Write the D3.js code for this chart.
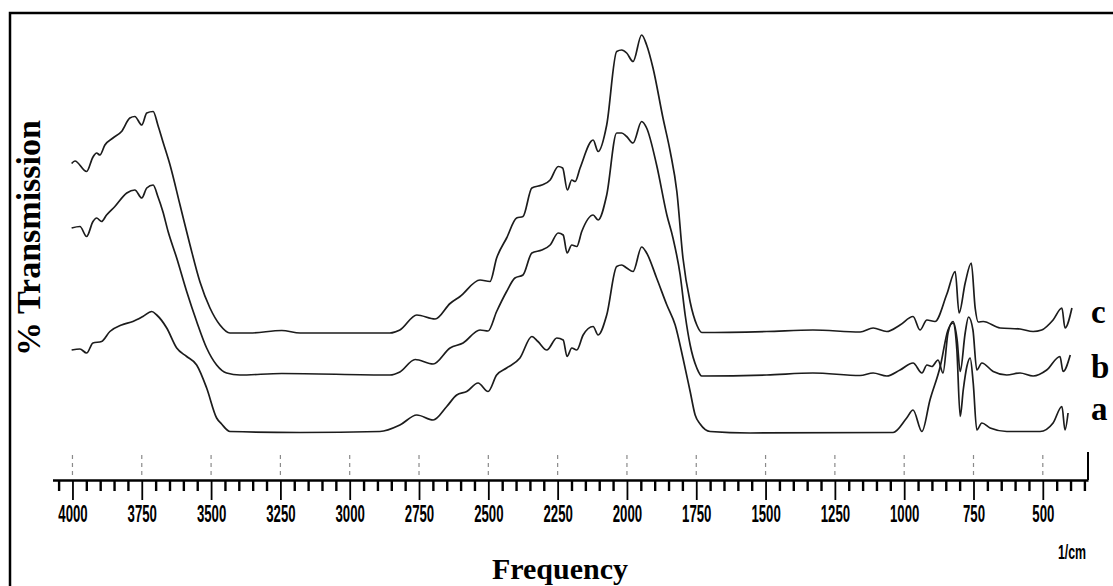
<!DOCTYPE html>
<html>
<head>
<meta charset="utf-8">
<script src="https://cdn.jsdelivr.net/npm/d3@7"></script>
<style>
  body { margin: 0; background: #fff; }
  svg { display: block; }
</style>
</head>
<body>
<svg></svg>
<script>
const WIDTH = 1113;
const HEIGHT = 586;

// wavenumber (1/cm), transmission (arbitrary, traces offset)
const seriesA = [
    [4003, 25.6], [3973, 25.8], [3949, 25], [3926, 27], [3895, 27.3], [3865, 29.3],
    [3823, 30.6], [3782, 31.3], [3746, 32.3], [3714, 33.3], [3696, 32.6], [3660, 30],
    [3624, 26], [3588, 24.3], [3552, 22.6], [3516, 18], [3480, 12], [3462, 10.8],
    [3432, 9.3], [3179, 9.1], [2891, 9.3], [2819, 10.6], [2758, 12.6], [2699, 11.6],
    [2650, 14.3], [2614, 16.6], [2578, 17.3], [2537, 19], [2501, 17.3], [2470, 20.6],
    [2434, 22], [2386, 24], [2343, 28.3], [2321, 27.3], [2289, 25.6], [2253, 28],
    [2230, 27.6], [2216, 24.3], [2199, 26], [2181, 25.6], [2158, 28.6], [2122, 30.3],
    [2104, 28.6], [2073, 32.6], [2037, 42.3], [2019, 42.6], [2001, 42], [1978, 41.3],
    [1947, 46.2], [1929, 45], [1893, 40], [1856, 34.6], [1826, 30.6], [1798, 24],
    [1772, 17.3], [1754, 12.6], [1736, 10.8], [1700, 9.3], [1556, 9], [1040, 9.1],
    [991, 12], [968, 13.6], [936, 9.3], [907, 15.6], [870, 22.3], [842, 29.6],
    [824, 31], [810, 25.6], [798, 12.3], [787, 17.6], [774, 22.3], [762, 24],
    [751, 19], [738, 9.6], [720, 11], [690, 10], [630, 9.3], [510, 9.3],
    [463, 11], [431, 14.3], [420, 9.6], [409, 13]
];

const seriesB = [
    [4003, 50], [3973, 50.3], [3949, 48.3], [3926, 51.3], [3913, 52], [3895, 51.3],
    [3877, 52.6], [3847, 54.3], [3804, 57], [3775, 57.6], [3750, 56], [3732, 58],
    [3709, 58.6], [3692, 56.3], [3674, 53.3], [3655, 49.3], [3624, 44], [3588, 37.3],
    [3552, 31.3], [3516, 26], [3480, 22.6], [3444, 21], [3396, 20.6], [3245, 20.9],
    [2855, 20.6], [2819, 21.2], [2764, 23.7], [2699, 22.8], [2638, 26], [2591, 27],
    [2530, 29.6], [2501, 29.4], [2470, 33.3], [2434, 37.3], [2404, 40], [2375, 40.6],
    [2343, 45], [2307, 45.6], [2277, 46.6], [2248, 49], [2230, 48.6], [2216, 45],
    [2199, 46.6], [2181, 46.3], [2163, 49.3], [2122, 52.6], [2104, 51.6], [2073, 56.6],
    [2037, 69], [2019, 69], [2001, 68.3], [1978, 67], [1947, 71.3], [1929, 70],
    [1893, 62.6], [1856, 52.6], [1834, 48], [1808, 40.6], [1790, 32.6], [1772, 26.6],
    [1748, 22], [1730, 20.4], [1496, 20.6], [1329, 21], [1159, 20.5], [1112, 21],
    [1063, 20.4], [1015, 21.6], [968, 23], [936, 21], [918, 22.6], [900, 22.3],
    [878, 23.6], [860, 21], [842, 29], [824, 31.3], [809, 27.6], [798, 21.3],
    [780, 29], [768, 32.2], [752, 29.6], [738, 21.6], [720, 23], [679, 21.3],
    [630, 20.6], [582, 21], [535, 20.4], [486, 21.6], [438, 24.3], [427, 21.3],
    [401, 24.6]
];

const seriesC = [
    [4003, 62.9], [3991, 63.4], [3949, 61.3], [3926, 64.2], [3913, 65], [3901, 64.6],
    [3883, 66.6], [3854, 68], [3823, 69.3], [3793, 72], [3775, 72.3], [3750, 70.6],
    [3732, 73], [3709, 73.3], [3692, 70.6], [3674, 67.3], [3648, 62.6], [3612, 54.6],
    [3576, 46.6], [3540, 39.2], [3504, 34], [3468, 30.6], [3432, 29], [3360, 29],
    [3245, 29.5], [3179, 29], [2855, 29], [2819, 29.6], [2758, 32.6], [2692, 31.8],
    [2638, 34.9], [2602, 36.3], [2530, 39.6], [2494, 39.3], [2470, 44], [2434, 48],
    [2398, 52], [2375, 52.3], [2343, 58], [2307, 58.6], [2277, 59.6], [2248, 62.3],
    [2232, 62], [2215, 57.6], [2199, 59.6], [2187, 59.3], [2169, 62], [2122, 67.6],
    [2104, 65.3], [2073, 70.6], [2037, 85.3], [2019, 85.6], [2001, 85], [1978, 83.3],
    [1947, 88.6], [1929, 86.6], [1906, 82], [1870, 72], [1844, 65.3], [1820, 57.3],
    [1798, 44], [1772, 35.2], [1748, 30.6], [1730, 29.1], [1496, 29.3], [1329, 29.6],
    [1159, 29.2], [1112, 30], [1063, 29.3], [1015, 30.6], [968, 32.3], [943, 29.6],
    [918, 31.6], [889, 31.3], [846, 36.8], [816, 41.3], [802, 33], [780, 39],
    [758, 43], [744, 34], [733, 31.2], [715, 31.3], [654, 30], [582, 29.8],
    [535, 29.3], [504, 29.6], [463, 31.6], [431, 34], [420, 30], [395, 34]
];

const majorTicks = [4000, 3750, 3500, 3250, 3000, 2750, 2500, 2250, 2000, 1750, 1500, 1250, 1000, 750, 500];
const traceNames = ["a", "b", "c"];
const xTitle = "Frequency";
const yTitle = "% Transmission";
const unitLabel = "1/cm";

let svg = d3.select("svg")
    .attr("width", WIDTH)
    .attr("height", HEIGHT);

// outer frame (runs off the right and bottom edge like the scan)
svg.append("rect")
    .attr("x", 10)
    .attr("y", 13)
    .attr("width", 1200)
    .attr("height", 700)
    .style("fill", "none")
    .style("stroke", "black")
    .style("stroke-width", 2.5);

const x = d3.scaleLinear()
    .domain([4072, 337])
    .range([52.5, 1088]);

const y = d3.scaleLinear()
    .domain([0, 90])
    .range([478, 28]);

const AXIS_Y = 480;

// gray dashed stubs above the axis at each labelled tick
svg.append("g")
    .selectAll("line")
    .data(majorTicks)
    .join("line")
    .attr("x1", d => x(d))
    .attr("x2", d => x(d))
    .attr("y1", AXIS_Y - 25)
    .attr("y2", AXIS_Y - 5)
    .style("stroke", "#8a8a8a")
    .style("stroke-width", 1.2)
    .style("stroke-dasharray", "4,4");

// minor ticks every 50
const minorTicks = d3.range(350, 4051, 50).filter(d => d % 250 !== 0);
let minorAxis = d3.axisBottom(x)
    .tickValues(minorTicks)
    .tickSize(11)
    .tickSizeOuter(0)
    .tickFormat("");
let gMinor = svg.append("g")
    .attr("transform", `translate(0,${AXIS_Y})`)
    .call(minorAxis);
gMinor.select(".domain").remove();
gMinor.selectAll("line").style("stroke-width", 2.4);

let majorAxis = d3.axisBottom(x)
    .tickValues(majorTicks)
    .tickSize(20)
    .tickSizeOuter(0)
    .tickFormat(d3.format("d"));
let gMajor = svg.append("g")
    .attr("transform", `translate(0,${AXIS_Y})`)
    .call(majorAxis);
gMajor.select(".domain")
    .style("stroke-width", 2.5);
gMajor.selectAll("line").style("stroke-width", 1.8);
gMajor.selectAll("text")
    .attr("y", 0)
    .attr("dy", 0)
    .attr("transform", "translate(0,42) scale(0.55,1)")
    .style("font-family", "'Liberation Sans', Arial, sans-serif")
    .style("font-weight", "bold")
    .style("font-size", "24px")
    .style("fill", "black");

// right end post of the axis
svg.append("line")
    .attr("x1", x.range()[1])
    .attr("x2", x.range()[1])
    .attr("y1", AXIS_Y - 28)
    .attr("y2", AXIS_Y)
    .style("stroke", "black")
    .style("stroke-width", 2);

// spectra
let line = d3.line()
    .x(d => x(d[0]))
    .y(d => y(d[1]))
    .curve(d3.curveMonotoneX);

[seriesA, seriesB, seriesC].forEach(s => {
    svg.append("path")
        .attr("d", line(s))
        .style("fill", "none")
        .style("stroke", "#1c1c1c")
        .style("stroke-width", 1.7)
        .style("stroke-linejoin", "round");
});

// trace letters
const letterBase = [420, 378, 323];
svg.append("g")
    .selectAll("text")
    .data(traceNames)
    .join("text")
    .attr("x", 1091)
    .attr("y", (d, i) => letterBase[i])
    .text(d => d)
    .style("font-family", "'Liberation Serif', 'Times New Roman', serif")
    .style("font-weight", "bold")
    .style("font-size", "33px");

svg.append("text")
    .attr("x", 560)
    .attr("y", 579)
    .attr("text-anchor", "middle")
    .text(xTitle)
    .style("font-family", "'Liberation Serif', 'Times New Roman', serif")
    .style("font-weight", "bold")
    .style("font-size", "30px");

svg.append("text")
    .attr("transform", "translate(40,238) rotate(-90)")
    .attr("text-anchor", "middle")
    .text(yTitle)
    .style("font-family", "'Liberation Serif', 'Times New Roman', serif")
    .style("font-weight", "bold")
    .style("font-size", "34px");

svg.append("text")
    .attr("transform", "translate(1072,559) scale(0.62,1)")
    .attr("text-anchor", "middle")
    .text(unitLabel)
    .style("font-family", "'Liberation Sans', Arial, sans-serif")
    .style("font-weight", "bold")
    .style("font-size", "20px");
</script>
</body>
</html>
